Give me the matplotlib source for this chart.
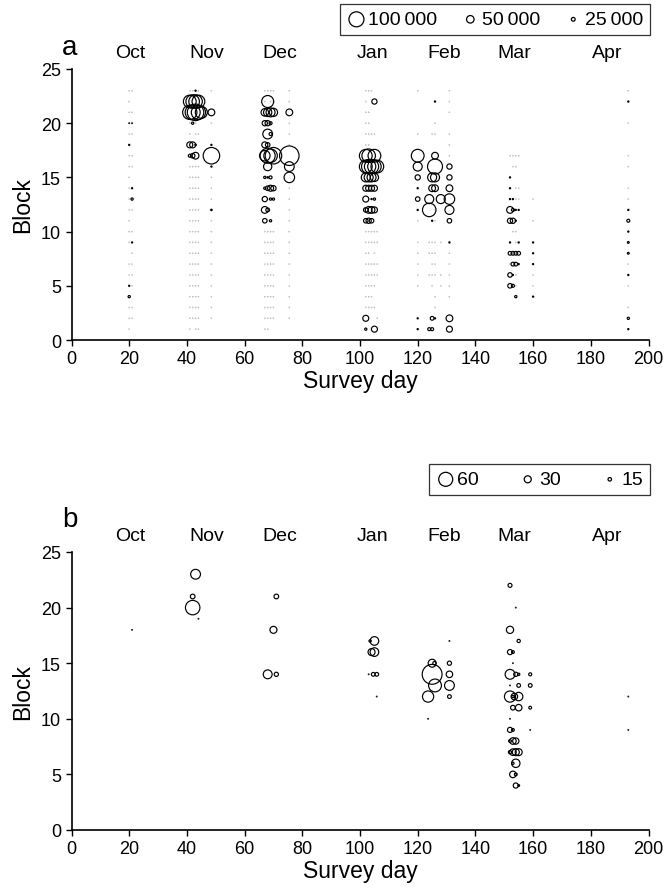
import numpy as np
import matplotlib
matplotlib.use("Agg")
import matplotlib.pyplot as plt
import matplotlib.transforms as mtransforms

plt.rcParams['font.family'] = ['Liberation Sans', 'DejaVu Sans']

# ---- panel a: abundance per block (thousands), blocks 1..23, one list per survey day
a_days = [20, 21, 41, 42, 43, 44, 45, 48.5, 67, 68, 69, 70, 75.5,
          102, 103, 104, 105, 106, 120, 124, 125, 126, 128, 131,
          152, 153, 154, 155, 160, 193]
a_counts = [
    [1, 1, 1, 15, 8, 1, 1, 0, 1, 1, 1, 1, 1, 1, 1, 1, 1, 8, 1, 5, 1, 1, 1],
    [0, 1, 1, 0, 1, 1, 1, 1, 8, 1, 0, 1, 15, 8, 0, 1, 1, 0, 1, 5, 1, 0, 1],
    [1, 1, 1, 1, 1, 1, 1, 1, 1, 1, 1, 1, 1, 1, 1, 1, 20, 40, 1, 1, 95, 85, 1],
    [0, 1, 1, 1, 1, 1, 1, 1, 1, 1, 1, 1, 1, 1, 1, 1, 30, 40, 0, 15, 100, 90, 1],
    [1, 1, 1, 1, 1, 1, 1, 1, 1, 1, 1, 1, 1, 1, 1, 1, 45, 10, 1, 1, 110, 90, 8],
    [1, 1, 1, 1, 1, 1, 1, 1, 1, 1, 1, 1, 1, 1, 1, 1, 0, 0, 1, 0, 95, 85, 1],
    [0, 0, 0, 0, 0, 0, 0, 0, 0, 0, 0, 0, 0, 0, 0, 0, 0, 0, 0, 0, 80, 0, 0],
    [0, 1, 1, 1, 1, 1, 1, 1, 1, 1, 1, 10, 1, 1, 1, 8, 110, 8, 0, 1, 45, 0, 1],
    [1, 1, 1, 1, 1, 1, 1, 1, 1, 1, 30, 45, 35, 15, 15, 0, 70, 40, 0, 35, 50, 1, 1],
    [1, 1, 1, 1, 1, 1, 1, 1, 1, 1, 1, 25, 1, 30, 10, 55, 100, 30, 65, 35, 55, 80, 1],
    [0, 1, 1, 1, 1, 1, 1, 1, 1, 1, 15, 0, 15, 40, 20, 0, 90, 0, 20, 20, 60, 1, 1],
    [0, 1, 1, 1, 1, 1, 1, 1, 1, 1, 0, 0, 15, 35, 0, 0, 110, 0, 0, 0, 55, 1, 1],
    [0, 1, 1, 1, 1, 1, 1, 1, 1, 1, 1, 1, 1, 1, 70, 65, 130, 1, 1, 1, 45, 1, 1],
    [15, 40, 1, 1, 1, 1, 1, 1, 1, 1, 30, 30, 40, 40, 60, 85, 85, 1, 1, 1, 1, 1, 1],
    [0, 0, 1, 1, 1, 1, 1, 1, 1, 1, 35, 45, 1, 40, 60, 95, 90, 1, 1, 1, 1, 0, 1],
    [0, 0, 1, 1, 1, 1, 1, 0, 1, 1, 30, 45, 8, 40, 60, 95, 0, 0, 1, 0, 0, 0, 1],
    [40, 0, 1, 0, 1, 1, 1, 1, 1, 1, 0, 40, 15, 40, 55, 90, 85, 0, 1, 0, 0, 35, 0],
    [0, 1, 0, 0, 0, 1, 1, 0, 1, 1, 0, 0, 0, 0, 0, 85, 0, 0, 0, 0, 0, 0, 0],
    [8, 8, 0, 0, 1, 1, 1, 1, 1, 0, 1, 8, 30, 8, 35, 60, 85, 0, 1, 0, 0, 0, 1],
    [20, 0, 0, 0, 0, 1, 0, 1, 1, 0, 0, 90, 60, 0, 0, 0, 0, 0, 0, 0, 0, 0, 0],
    [20, 25, 0, 0, 1, 1, 1, 1, 1, 0, 8, 0, 0, 45, 60, 0, 0, 0, 1, 0, 0, 0, 0],
    [0, 8, 1, 1, 0, 1, 1, 1, 1, 0, 1, 1, 0, 45, 60, 100, 45, 0, 1, 1, 0, 8, 0],
    [0, 0, 0, 0, 1, 1, 0, 0, 1, 0, 0, 0, 60, 0, 0, 0, 0, 0, 0, 0, 0, 0, 0],
    [40, 45, 0, 1, 1, 1, 1, 1, 8, 0, 30, 60, 70, 45, 35, 35, 1, 1, 1, 0, 1, 1, 1],
    [0, 0, 0, 0, 30, 30, 1, 25, 8, 0, 35, 45, 8, 8, 8, 0, 1, 0, 0, 0, 0, 0, 0],
    [0, 0, 0, 0, 20, 8, 25, 25, 0, 1, 35, 20, 8, 0, 0, 1, 1, 0, 0, 0, 0, 0, 0],
    [0, 0, 0, 15, 1, 1, 25, 25, 1, 1, 8, 8, 1, 1, 0, 1, 1, 0, 0, 0, 0, 0, 0],
    [0, 0, 0, 0, 0, 0, 8, 25, 8, 0, 0, 8, 1, 1, 0, 0, 1, 0, 0, 0, 0, 0, 0],
    [0, 0, 0, 8, 1, 1, 8, 8, 8, 0, 1, 0, 1, 0, 0, 0, 0, 0, 0, 0, 0, 0, 0],
    [8, 15, 1, 0, 1, 8, 1, 12, 12, 8, 20, 8, 1, 1, 0, 1, 1, 0, 0, 1, 0, 8, 1],
]

# ---- panel b: individual records (day, block, count)
b_day = [21, 42, 42, 43, 44, 68, 70, 71, 71,
         103.5, 104, 105, 105, 103, 104.6, 105.8, 105.8,
         123.6, 123.6, 125, 125, 125.8, 126, 131, 131, 131, 131, 131,
         152, 154, 152, 155, 152, 153, 153, 152, 154, 155, 159, 152, 155, 159,
         152, 153, 153.5, 155, 153, 155, 159, 152, 152, 153, 159, 152, 153, 154,
         152, 153, 154, 155, 153, 154, 153, 154, 154, 155, 193, 193]
b_block = [18, 20, 21, 23, 19, 14, 18, 21, 14,
           17, 16, 17, 16, 14, 14, 14, 12,
           12, 10, 15, 14, 15, 13, 17, 15, 14, 13, 12,
           22, 20, 18, 17, 16, 16, 15, 14, 14, 14, 14, 13, 13, 13,
           12, 12, 12, 12, 11, 11, 11, 10, 9, 9, 9, 8, 8, 8,
           7, 7, 7, 7, 6, 6, 5, 5, 4, 4, 12, 9]
b_count = [3, 62, 20, 42, 3, 38, 30, 20, 18,
           10, 30, 37, 37, 3, 16, 16, 3,
           48, 3, 34, 85, 14, 55, 3, 18, 28, 42, 16,
           17, 3, 31, 14, 22, 12, 3, 42, 18, 10, 13, 3, 16, 16,
           48, 10, 28, 36, 20, 28, 12, 3, 22, 12, 3, 12, 28, 27,
           14, 28, 30, 30, 10, 36, 28, 12, 22, 8, 3, 3]

months = ['Oct', 'Nov', 'Dec', 'Jan', 'Feb', 'Mar', 'Apr']
month_x = [20.3, 47.0, 72.3, 104.2, 129.1, 153.4, 185.6]

a_legend_vals = [100, 50, 25]
a_legend_labels = ['100\u2009000', '50\u2009000', '25\u2009000']
b_legend_vals = [60, 30, 15]
b_legend_labels = ['60', '30', '15']

W, H = 666, 895
fig = plt.figure(figsize=(W / 100, H / 100), dpi=100)


def size(v, ref, ref_px):
    # circle diameter grows linearly with the value
    d_pt = np.asarray(v, dtype=float) / ref * ref_px * 0.72
    return d_pt ** 2


def setup(ax, letter, letter_y):
    ax.set_xlim(0, 200)
    ax.set_ylim(0, 25)
    ax.set_xticks(range(0, 201, 20))
    ax.set_yticks(range(0, 26, 5))
    for s in ['top', 'right']:
        ax.spines[s].set_visible(False)
    for s in ['left', 'bottom']:
        ax.spines[s].set_linewidth(1.2)
    ax.tick_params(direction='out', length=4, width=1, labelsize=13)
    ax.set_xlabel('Survey day', fontsize=16.5, labelpad=1)
    ax.set_ylabel('Block', fontsize=16.5, labelpad=5)
    trans = mtransforms.blended_transform_factory(ax.transData, ax.transAxes)
    for m, x in zip(months, month_x):
        ax.text(x, 1.03, m, transform=trans, ha='center', va='bottom', fontsize=14)
    fig.text(70 / W, 1 - letter_y / H, letter, fontsize=20, ha='center', va='center')


def add_legend(ax, vals, labels, ref, ref_px, x0, y0, colsp):
    handles = [ax.scatter([], [], s=size(v, ref, ref_px), facecolors='none',
                          edgecolors='black', linewidths=0.9) for v in vals]
    leg = fig.legend(handles, labels, ncol=3, loc='upper right',
                     bbox_to_anchor=(x0 / W, 1 - y0 / H), frameon=True,
                     fancybox=False, edgecolor='black', fontsize=14,
                     handletextpad=0.1, columnspacing=colsp, borderpad=0.35,
                     borderaxespad=0, scatterpoints=1, handlelength=1.0)
    leg.get_frame().set_linewidth(0.9)


# panel a
ax1 = fig.add_axes([71.5 / W, 1 - 341 / H, 577 / W, 271 / H])
blocks = np.arange(1, 24)
xs, ys, vs = [], [], []
for d, col in zip(a_days, a_counts):
    for b, v in zip(blocks, col):
        if v > 0:
            xs.append(d)
            ys.append(b)
            vs.append(v)
ax1.scatter(xs, ys, s=size(vs, 100, 15), facecolors='none', edgecolors='black',
            linewidths=0.85, clip_on=False)
setup(ax1, 'a', 48)
add_legend(ax1, a_legend_vals, a_legend_labels, 100, 15, 650, 5, 1.2)

# panel b
ax2 = fig.add_axes([71.5 / W, 1 - 831 / H, 577 / W, 278 / H])
ax2.scatter(b_day, b_block, s=size(b_count, 60, 14), facecolors='none',
            edgecolors='black', linewidths=0.85, clip_on=False)
setup(ax2, 'b', 520)
add_legend(ax2, b_legend_vals, b_legend_labels, 60, 14, 650, 465, 2.0)

fig.savefig('out.png', dpi=100)
